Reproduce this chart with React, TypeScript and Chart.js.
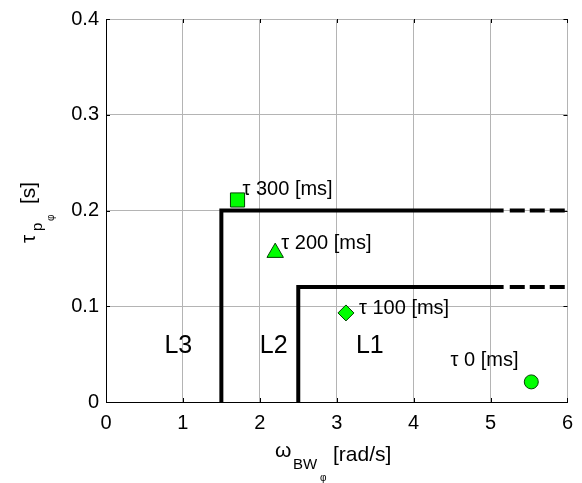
import React, { useEffect, useRef } from 'react';
import { Chart, registerables } from 'chart.js';

Chart.register(...registerables);

// ---- data ----
const xTicks = [0, 1, 2, 3, 4, 5, 6];
const xTickLabels = ['0', '1', '2', '3', '4', '5', '6'];
const yTicks = [0, 0.1, 0.2, 0.3, 0.4];
const yTickLabels = ['0', '0.1', '0.2', '0.3', '0.4'];

// operating points (omega_BW, tau_p) for each time delay
const wBW = [5.53, 3.12, 2.2, 1.71];
const tauP = [0.021, 0.093, 0.156, 0.211];
const delayLabels = ['τ 0 [ms]', 'τ 100 [ms]', 'τ 200 [ms]', 'τ 300 [ms]'];
const markerStyles = ['circle', 'rectRot', 'triangle', 'rect'];
const labelX = [4.48, 3.29, 2.28, 1.775];
const labelY = [0.038, 0.092, 0.16, 0.216];

// level boundaries
const l3SolidX = [1.5, 1.5, 5.17];
const l3SolidY = [0, 0.2, 0.2];
const l3DashX = [5.25, 6];
const l3DashY = [0.2, 0.2];
const l2SolidX = [2.5, 2.5, 5.17];
const l2SolidY = [0, 0.12, 0.12];
const l2DashX = [5.25, 6];
const l2DashY = [0.12, 0.12];

const levelNames = ['L3', 'L2', 'L1'];
const levelX = [0.76, 2.0, 3.25];
const levelY = [0.051, 0.051, 0.051];

const FONT = "'Liberation Sans', Arial, sans-serif";
const GREEN = '#00ff00';

const zip = (xs: number[], ys: number[]) => xs.map((x, i) => ({ x, y: ys[i] }));

function drawRuns(ctx: CanvasRenderingContext2D, runs: { t: string; x: number; y: number; size: number }[]) {
  for (const r of runs) {
    ctx.font = `${r.size}px ${FONT}`;
    ctx.fillText(r.t, r.x, r.y);
  }
}

const overlay = {
  id: 'overlay',
  afterDatasetsDraw(chart: any) {
    const ctx: CanvasRenderingContext2D = chart.ctx;
    const xs = chart.scales.x;
    const ys = chart.scales.y;
    ctx.save();
    ctx.fillStyle = '#000';
    ctx.textBaseline = 'alphabetic';
    ctx.textAlign = 'left';
    ctx.font = `20px ${FONT}`;
    delayLabels.forEach((t, i) => {
      ctx.fillText(t, xs.getPixelForValue(labelX[i]), ys.getPixelForValue(labelY[i]));
    });
    ctx.font = `25px ${FONT}`;
    levelNames.forEach((t, i) => {
      ctx.fillText(t, xs.getPixelForValue(levelX[i]), ys.getPixelForValue(levelY[i]));
    });
    ctx.restore();
  },
  afterDraw(chart: any) {
    const ctx: CanvasRenderingContext2D = chart.ctx;
    const a = chart.chartArea;
    const xs = chart.scales.x;
    const ys = chart.scales.y;
    ctx.save();
    // inward tick marks on all four sides
    ctx.strokeStyle = '#000';
    ctx.lineWidth = 1;
    const tl = 4;
    ctx.beginPath();
    xTicks.forEach((v) => {
      const px = Math.round(xs.getPixelForValue(v)) + 0.5;
      ctx.moveTo(px, a.bottom);
      ctx.lineTo(px, a.bottom - tl);
      ctx.moveTo(px, a.top);
      ctx.lineTo(px, a.top + tl);
    });
    yTicks.forEach((v) => {
      const py = Math.round(ys.getPixelForValue(v)) + 0.5;
      ctx.moveTo(a.left, py);
      ctx.lineTo(a.left + tl, py);
      ctx.moveTo(a.right, py);
      ctx.lineTo(a.right - tl, py);
    });
    ctx.stroke();

    ctx.fillStyle = '#000';
    ctx.textAlign = 'left';
    ctx.textBaseline = 'alphabetic';
    // x axis title: omega_{BW_phi} [rad/s]
    drawRuns(ctx, [
      { t: 'ω', x: 275, y: 457, size: 21 },
      { t: 'BW', x: 293, y: 469, size: 15 },
      { t: 'φ', x: 320, y: 481, size: 10 },
      { t: '[rad/s]', x: 333, y: 461, size: 21 },
    ]);
    // y axis title: tau_{p_phi} [s], rotated
    ctx.translate(35, 243);
    ctx.rotate(-Math.PI / 2);
    drawRuns(ctx, [
      { t: 'τ', x: 0, y: 0, size: 21 },
      { t: 'p', x: 12, y: 7, size: 15 },
      { t: 'φ', x: 22, y: 19, size: 10 },
      { t: '[s]', x: 39, y: 0, size: 21 },
    ]);
    ctx.restore();
  },
};

export default function App() {
  const ref = useRef<HTMLCanvasElement | null>(null);

  useEffect(() => {
    document.body.style.margin = '0';
    const canvas = ref.current;
    if (!canvas) return;

    const lineStyle = {
      type: 'line' as const,
      borderColor: '#000',
      borderWidth: 4,
      pointRadius: 0,
      fill: false,
      tension: 0,
      borderJoinStyle: 'miter' as const,
      borderCapStyle: 'butt' as const,
    };

    const markerSets = wBW.map((x, i) => ({
      type: 'scatter' as const,
      data: [{ x, y: tauP[i] }],
      pointStyle: markerStyles[i],
      pointRadius: [7, 8, 9.5, 10][i],
      pointBackgroundColor: GREEN,
      pointBorderColor: '#004000',
      pointBorderWidth: 1,
      showLine: false,
    }));

    const chart = new Chart(canvas, {
      type: 'scatter',
      data: {
        datasets: [
          ...markerSets,
          { ...lineStyle, data: zip(l3SolidX, l3SolidY) },
          { ...lineStyle, data: zip(l3DashX, l3DashY), borderDash: [15, 5] },
          { ...lineStyle, data: zip(l2SolidX, l2SolidY) },
          { ...lineStyle, data: zip(l2DashX, l2DashY), borderDash: [15, 5] },
        ] as any,
      },
      options: {
        responsive: false,
        animation: false,
        devicePixelRatio: 1,
        layout: { padding: { top: 15, right: 13, left: 0, bottom: 0 } },
        plugins: { legend: { display: false }, tooltip: { enabled: false } },
        scales: {
          x: {
            type: 'linear',
            min: 0,
            max: 6,
            afterBuildTicks: (s: any) => {
              s.ticks = xTicks.map((v) => ({ value: v }));
            },
            afterFit: (s: any) => {
              s.height = 81;
            },
            ticks: {
              callback: (_v: any, i: number) => xTickLabels[i],
              color: '#000',
              font: { family: FONT, size: 20 },
              padding: 9,
              maxRotation: 0,
              autoSkip: false,
            },
            grid: { color: '#b4b4b4', drawTicks: false, lineWidth: 1 },
            border: { color: '#000', width: 1 },
          },
          y: {
            type: 'linear',
            min: 0,
            max: 0.4,
            afterBuildTicks: (s: any) => {
              s.ticks = yTicks.map((v) => ({ value: v }));
            },
            afterFit: (s: any) => {
              s.width = 106;
            },
            ticks: {
              callback: (_v: any, i: number) => yTickLabels[i],
              color: '#000',
              font: { family: FONT, size: 20 },
              padding: 7,
              autoSkip: false,
            },
            grid: { color: '#b4b4b4', drawTicks: false, lineWidth: 1 },
            border: { color: '#000', width: 1 },
          },
        },
      } as any,
      plugins: [overlay],
    });

    return () => chart.destroy();
  }, []);

  return (
    <div style={{ position: 'absolute', left: 0, top: 0, width: 582, height: 483, background: '#fff' }}>
      <canvas ref={ref} width={582} height={483} style={{ width: 582, height: 483 }} />
    </div>
  );
}
